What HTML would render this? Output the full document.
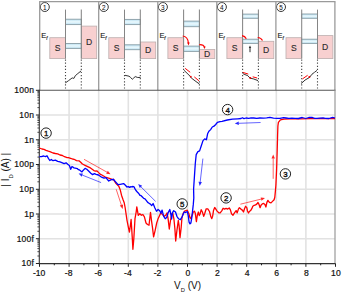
<!DOCTYPE html>
<html><head><meta charset="utf-8"><style>
html,body{margin:0;padding:0;background:#fff;width:342px;height:294px;overflow:hidden}
svg{display:block;font-family:"Liberation Sans",sans-serif;fill:#111}
</style></head><body>
<svg width="342" height="294" viewBox="0 0 342 294">
<defs><linearGradient id="bg" x1="0" y1="0" x2="0" y2="1"><stop offset="0" stop-color="#b8def0"/><stop offset="0.5" stop-color="#ecfafe"/><stop offset="1" stop-color="#b8def0"/></linearGradient></defs>
<g stroke="#e2e2e2" stroke-width="1.6"><line x1="69.1" y1="90.3" x2="69.1" y2="263.5"/><line x1="98.7" y1="90.3" x2="98.7" y2="263.5"/><line x1="128.3" y1="90.3" x2="128.3" y2="263.5"/><line x1="157.9" y1="90.3" x2="157.9" y2="263.5"/><line x1="187.5" y1="90.3" x2="187.5" y2="263.5"/><line x1="217.1" y1="90.3" x2="217.1" y2="263.5"/><line x1="246.7" y1="90.3" x2="246.7" y2="263.5"/><line x1="276.3" y1="90.3" x2="276.3" y2="263.5"/><line x1="305.9" y1="90.3" x2="305.9" y2="263.5"/><line x1="39.2" y1="115.0" x2="334.9" y2="115.0"/><line x1="39.2" y1="139.8" x2="334.9" y2="139.8"/><line x1="39.2" y1="164.5" x2="334.9" y2="164.5"/><line x1="39.2" y1="189.3" x2="334.9" y2="189.3"/><line x1="39.2" y1="214.0" x2="334.9" y2="214.0"/><line x1="39.2" y1="238.7" x2="334.9" y2="238.7"/></g>
<rect x="49.8" y="37.7" width="15.7" height="20.9" fill="#f8d0d0" stroke="#bcaeae" stroke-width="0.8"/><rect x="81.3" y="26.1" width="15.4" height="32.5" fill="#f8d0d0" stroke="#bcaeae" stroke-width="0.8"/><rect x="65.5" y="19.2" width="15.8" height="5.4" fill="url(#bg)" stroke="#8a9ea6" stroke-width="0.9"/><rect x="65.5" y="43.5" width="15.8" height="4.9" fill="url(#bg)" stroke="#8a9ea6" stroke-width="0.9"/><line x1="65.5" y1="9.6" x2="65.5" y2="58.6" stroke="#858585" stroke-width="1.05"/><line x1="81.3" y1="9.6" x2="81.3" y2="58.6" stroke="#858585" stroke-width="1.05"/><line x1="65.5" y1="59.5" x2="65.5" y2="90" stroke="#444" stroke-width="1.1" stroke-dasharray="1.2,1.9"/><line x1="81.3" y1="59.5" x2="81.3" y2="90" stroke="#444" stroke-width="1.1" stroke-dasharray="1.2,1.9"/><text x="57.6" y="51" font-size="8.6" text-anchor="middle" fill="#2a2a2a" stroke="#333" stroke-width="0.12">S</text><text x="89.0" y="45.4" font-size="8.6" text-anchor="middle" fill="#2a2a2a" stroke="#333" stroke-width="0.12">D</text><text x="41.3" y="37.6" font-size="7.4" fill="#1a1a1a" stroke="#1a1a1a" stroke-width="0.15">E<tspan font-size="4.6" font-style="italic" dy="1.9">f</tspan></text><circle cx="44.8" cy="7.0" r="4.5" fill="#fff" stroke="#222" stroke-width="0.9"/><text x="44.8" y="9.6" font-size="6.4" text-anchor="middle" stroke="#111" stroke-width="0.05">1</text><line x1="39.7" y1="1.7" x2="39.7" y2="90.3" stroke="#9a9a9a" stroke-width="1.3"/><rect x="108.8" y="37.7" width="15.7" height="20.9" fill="#f8d0d0" stroke="#bcaeae" stroke-width="0.8"/><rect x="140.3" y="42.0" width="15.4" height="16.6" fill="#f8d0d0" stroke="#bcaeae" stroke-width="0.8"/><rect x="124.5" y="19.4" width="15.8" height="5.2" fill="url(#bg)" stroke="#8a9ea6" stroke-width="0.9"/><rect x="124.5" y="44.8" width="15.8" height="4.9" fill="url(#bg)" stroke="#8a9ea6" stroke-width="0.9"/><line x1="124.5" y1="9.6" x2="124.5" y2="58.6" stroke="#858585" stroke-width="1.05"/><line x1="140.3" y1="9.6" x2="140.3" y2="58.6" stroke="#858585" stroke-width="1.05"/><line x1="124.5" y1="59.5" x2="124.5" y2="90" stroke="#444" stroke-width="1.1" stroke-dasharray="1.2,1.9"/><line x1="140.3" y1="59.5" x2="140.3" y2="90" stroke="#444" stroke-width="1.1" stroke-dasharray="1.2,1.9"/><text x="116.6" y="51" font-size="8.6" text-anchor="middle" fill="#2a2a2a" stroke="#333" stroke-width="0.12">S</text><text x="148.0" y="53.3" font-size="8.6" text-anchor="middle" fill="#2a2a2a" stroke="#333" stroke-width="0.12">D</text><text x="100.3" y="37.6" font-size="7.4" fill="#1a1a1a" stroke="#1a1a1a" stroke-width="0.15">E<tspan font-size="4.6" font-style="italic" dy="1.9">f</tspan></text><circle cx="103.8" cy="7.0" r="4.5" fill="#fff" stroke="#222" stroke-width="0.9"/><text x="103.8" y="9.6" font-size="6.4" text-anchor="middle" stroke="#111" stroke-width="0.05">2</text><line x1="98.7" y1="1.7" x2="98.7" y2="90.3" stroke="#9a9a9a" stroke-width="1.3"/><rect x="167.9" y="37.7" width="15.7" height="20.9" fill="#f8d0d0" stroke="#bcaeae" stroke-width="0.8"/><rect x="199.4" y="49.4" width="15.4" height="9.2" fill="#f8d0d0" stroke="#bcaeae" stroke-width="0.8"/><rect x="183.6" y="21.1" width="15.8" height="5.6" fill="url(#bg)" stroke="#8a9ea6" stroke-width="0.9"/><rect x="183.6" y="46.1" width="15.8" height="5.3" fill="url(#bg)" stroke="#8a9ea6" stroke-width="0.9"/><line x1="183.6" y1="9.6" x2="183.6" y2="58.6" stroke="#858585" stroke-width="1.05"/><line x1="199.4" y1="9.6" x2="199.4" y2="58.6" stroke="#858585" stroke-width="1.05"/><line x1="183.6" y1="59.5" x2="183.6" y2="90" stroke="#444" stroke-width="1.1" stroke-dasharray="1.2,1.9"/><line x1="199.4" y1="59.5" x2="199.4" y2="90" stroke="#444" stroke-width="1.1" stroke-dasharray="1.2,1.9"/><text x="175.7" y="51" font-size="8.6" text-anchor="middle" fill="#2a2a2a" stroke="#333" stroke-width="0.12">S</text><text x="207.1" y="57.0" font-size="8.6" text-anchor="middle" fill="#2a2a2a" stroke="#333" stroke-width="0.12">D</text><text x="159.4" y="37.6" font-size="7.4" fill="#1a1a1a" stroke="#1a1a1a" stroke-width="0.15">E<tspan font-size="4.6" font-style="italic" dy="1.9">f</tspan></text><circle cx="162.9" cy="7.0" r="4.5" fill="#fff" stroke="#222" stroke-width="0.9"/><text x="162.9" y="9.6" font-size="6.4" text-anchor="middle" stroke="#111" stroke-width="0.05">3</text><line x1="157.8" y1="1.7" x2="157.8" y2="90.3" stroke="#9a9a9a" stroke-width="1.3"/><rect x="226.9" y="37.7" width="15.7" height="20.9" fill="#f8d0d0" stroke="#bcaeae" stroke-width="0.8"/><rect x="258.4" y="41.3" width="15.4" height="17.3" fill="#f8d0d0" stroke="#bcaeae" stroke-width="0.8"/><rect x="242.6" y="14.1" width="15.8" height="4.2" fill="url(#bg)" stroke="#8a9ea6" stroke-width="0.9"/><rect x="242.6" y="39.2" width="15.8" height="4.2" fill="url(#bg)" stroke="#8a9ea6" stroke-width="0.9"/><line x1="242.6" y1="9.6" x2="242.6" y2="58.6" stroke="#858585" stroke-width="1.05"/><line x1="258.4" y1="9.6" x2="258.4" y2="58.6" stroke="#858585" stroke-width="1.05"/><line x1="242.6" y1="59.5" x2="242.6" y2="90" stroke="#444" stroke-width="1.1" stroke-dasharray="1.2,1.9"/><line x1="258.4" y1="59.5" x2="258.4" y2="90" stroke="#444" stroke-width="1.1" stroke-dasharray="1.2,1.9"/><text x="234.7" y="51" font-size="8.6" text-anchor="middle" fill="#2a2a2a" stroke="#333" stroke-width="0.12">S</text><text x="266.1" y="53.0" font-size="8.6" text-anchor="middle" fill="#2a2a2a" stroke="#333" stroke-width="0.12">D</text><text x="218.4" y="37.6" font-size="7.4" fill="#1a1a1a" stroke="#1a1a1a" stroke-width="0.15">E<tspan font-size="4.6" font-style="italic" dy="1.9">f</tspan></text><circle cx="221.9" cy="7.0" r="4.5" fill="#fff" stroke="#222" stroke-width="0.9"/><text x="221.9" y="9.6" font-size="6.4" text-anchor="middle" stroke="#111" stroke-width="0.05">4</text><line x1="216.8" y1="1.7" x2="216.8" y2="90.3" stroke="#9a9a9a" stroke-width="1.3"/><rect x="286.0" y="37.7" width="15.7" height="20.9" fill="#f8d0d0" stroke="#bcaeae" stroke-width="0.8"/><rect x="317.5" y="35.6" width="15.4" height="23.0" fill="#f8d0d0" stroke="#bcaeae" stroke-width="0.8"/><rect x="301.7" y="14.0" width="15.8" height="4.3" fill="url(#bg)" stroke="#8a9ea6" stroke-width="0.9"/><rect x="301.7" y="39.2" width="15.8" height="4.2" fill="url(#bg)" stroke="#8a9ea6" stroke-width="0.9"/><line x1="301.7" y1="9.6" x2="301.7" y2="58.6" stroke="#858585" stroke-width="1.05"/><line x1="317.5" y1="9.6" x2="317.5" y2="58.6" stroke="#858585" stroke-width="1.05"/><line x1="301.7" y1="59.5" x2="301.7" y2="90" stroke="#444" stroke-width="1.1" stroke-dasharray="1.2,1.9"/><line x1="317.5" y1="59.5" x2="317.5" y2="90" stroke="#444" stroke-width="1.1" stroke-dasharray="1.2,1.9"/><text x="293.8" y="51" font-size="8.6" text-anchor="middle" fill="#2a2a2a" stroke="#333" stroke-width="0.12">S</text><text x="325.2" y="50.1" font-size="8.6" text-anchor="middle" fill="#2a2a2a" stroke="#333" stroke-width="0.12">D</text><text x="277.5" y="37.6" font-size="7.4" fill="#1a1a1a" stroke="#1a1a1a" stroke-width="0.15">E<tspan font-size="4.6" font-style="italic" dy="1.9">f</tspan></text><circle cx="281.0" cy="7.0" r="4.5" fill="#fff" stroke="#222" stroke-width="0.9"/><text x="281.0" y="9.6" font-size="6.4" text-anchor="middle" stroke="#111" stroke-width="0.05">5</text><line x1="275.9" y1="1.7" x2="275.9" y2="90.3" stroke="#9a9a9a" stroke-width="1.3"/><line x1="334.9" y1="1.7" x2="334.9" y2="90.3" stroke="#9a9a9a" stroke-width="1.3"/><line x1="39.1" y1="1.7" x2="335.5" y2="1.7" stroke="#9a9a9a" stroke-width="1.3"/><polyline points="65.5,82.8 68.6,80.6 72.2,77.9 73.9,78.4 75.3,75.7 77.9,73.5 81.2,70.8" fill="none" stroke="#333" stroke-width="1.0" stroke-linejoin="round"/><polyline points="125.0,75.3 129.0,76.2 130.7,77.5 132.3,79.3 133.8,77.9 135.2,76.6 137.8,77.5 140.5,77.4" fill="none" stroke="#333" stroke-width="1.0" stroke-linejoin="round"/><polyline points="183.9,70.2 187.0,73.2 190.2,76.3 191.2,77.9 195.0,80.8 199.4,84.0" fill="none" stroke="#333" stroke-width="1.0" stroke-linejoin="round"/><polyline points="242.6,73.5 245.0,74.6 247.8,75.7 250.1,78.2 253.2,78.8 258.0,80.6" fill="none" stroke="#333" stroke-width="1.0" stroke-linejoin="round"/><polyline points="301.3,83.5 305.0,80.1 309.4,77.5 312.0,74.2 314.5,72.3 317.0,70.4" fill="none" stroke="#333" stroke-width="1.0" stroke-linejoin="round"/><line x1="185.1" y1="68.3" x2="190.2" y2="72.3" stroke="#f00" stroke-width="1.0"/><circle cx="190.8" cy="76.7" r="0.9" fill="#e00"/><line x1="194.3" y1="76.9" x2="198.9" y2="80.8" stroke="#f00" stroke-width="1.0"/><line x1="242.8" y1="72.4" x2="248.3" y2="74.1" stroke="#f00" stroke-width="1.0"/><line x1="252.7" y1="76.8" x2="257.1" y2="78.0" stroke="#f00" stroke-width="1.0"/><circle cx="250.3" cy="77.9" r="1" fill="#e00"/><line x1="302.5" y1="78.9" x2="307.6" y2="75.3" stroke="#f00" stroke-width="1.0"/><circle cx="309.4" cy="77" r="1" fill="#e00"/><path d="M182.7,36 Q187.8,36.5 188.4,43" fill="none" stroke="#f00" stroke-width="1.2"/><polygon points="188.5,45.5 187.1,42.5 189.7,42.5" fill="#e00"/><path d="M199.3,44.6 Q203.8,44.4 204.3,47" fill="none" stroke="#f00" stroke-width="1.2"/><polygon points="204.5,49 203.2,46.5 205.7,46.5" fill="#e00"/><path d="M242,35.6 Q245,36 246.3,38.8" fill="none" stroke="#f00" stroke-width="1.2"/><path d="M257.7,37.5 Q261,37.6 262.5,40.6" fill="none" stroke="#f00" stroke-width="1.2"/><line x1="250.0" y1="52.2" x2="250.0" y2="48.0" stroke="#111" stroke-width="0.9" opacity="1"/><polygon points="250.0,45.4 251.2,48.0 248.8,48.0" fill="#111" opacity="0.9"/>
<line x1="39.2" y1="90.3" x2="335.5" y2="90.3" stroke="#555" stroke-width="1.1"/><line x1="335" y1="90.3" x2="335" y2="263.5" stroke="#999" stroke-width="1.2"/><line x1="39.3" y1="89.8" x2="39.3" y2="264.1" stroke="#333" stroke-width="1.1"/><line x1="38.7" y1="263.6" x2="335.5" y2="263.6" stroke="#333" stroke-width="1.1"/><line x1="39.5" y1="263.5" x2="39.5" y2="266.8" stroke="#222" stroke-width="1"/><line x1="54.3" y1="263.5" x2="54.3" y2="265.3" stroke="#222" stroke-width="1"/><line x1="69.1" y1="263.5" x2="69.1" y2="266.8" stroke="#222" stroke-width="1"/><line x1="83.9" y1="263.5" x2="83.9" y2="265.3" stroke="#222" stroke-width="1"/><line x1="98.7" y1="263.5" x2="98.7" y2="266.8" stroke="#222" stroke-width="1"/><line x1="113.5" y1="263.5" x2="113.5" y2="265.3" stroke="#222" stroke-width="1"/><line x1="128.3" y1="263.5" x2="128.3" y2="266.8" stroke="#222" stroke-width="1"/><line x1="143.1" y1="263.5" x2="143.1" y2="265.3" stroke="#222" stroke-width="1"/><line x1="157.9" y1="263.5" x2="157.9" y2="266.8" stroke="#222" stroke-width="1"/><line x1="172.7" y1="263.5" x2="172.7" y2="265.3" stroke="#222" stroke-width="1"/><line x1="187.5" y1="263.5" x2="187.5" y2="266.8" stroke="#222" stroke-width="1"/><line x1="202.3" y1="263.5" x2="202.3" y2="265.3" stroke="#222" stroke-width="1"/><line x1="217.1" y1="263.5" x2="217.1" y2="266.8" stroke="#222" stroke-width="1"/><line x1="231.9" y1="263.5" x2="231.9" y2="265.3" stroke="#222" stroke-width="1"/><line x1="246.7" y1="263.5" x2="246.7" y2="266.8" stroke="#222" stroke-width="1"/><line x1="261.5" y1="263.5" x2="261.5" y2="265.3" stroke="#222" stroke-width="1"/><line x1="276.3" y1="263.5" x2="276.3" y2="266.8" stroke="#222" stroke-width="1"/><line x1="291.1" y1="263.5" x2="291.1" y2="265.3" stroke="#222" stroke-width="1"/><line x1="305.9" y1="263.5" x2="305.9" y2="266.8" stroke="#222" stroke-width="1"/><line x1="320.7" y1="263.5" x2="320.7" y2="265.3" stroke="#222" stroke-width="1"/><line x1="335.5" y1="263.5" x2="335.5" y2="266.8" stroke="#222" stroke-width="1"/><line x1="35.9" y1="90.3" x2="39.2" y2="90.3" stroke="#222" stroke-width="1"/><line x1="37.4" y1="107.6" x2="39.2" y2="107.6" stroke="#222" stroke-width="0.8"/><line x1="37.4" y1="103.2" x2="39.2" y2="103.2" stroke="#222" stroke-width="0.8"/><line x1="37.4" y1="100.1" x2="39.2" y2="100.1" stroke="#222" stroke-width="0.8"/><line x1="37.4" y1="97.7" x2="39.2" y2="97.7" stroke="#222" stroke-width="0.8"/><line x1="37.4" y1="95.8" x2="39.2" y2="95.8" stroke="#222" stroke-width="0.8"/><line x1="37.4" y1="94.1" x2="39.2" y2="94.1" stroke="#222" stroke-width="0.8"/><line x1="37.4" y1="92.7" x2="39.2" y2="92.7" stroke="#222" stroke-width="0.8"/><line x1="37.4" y1="91.4" x2="39.2" y2="91.4" stroke="#222" stroke-width="0.8"/><line x1="35.9" y1="115.0" x2="39.2" y2="115.0" stroke="#222" stroke-width="1"/><line x1="37.4" y1="132.3" x2="39.2" y2="132.3" stroke="#222" stroke-width="0.8"/><line x1="37.4" y1="128.0" x2="39.2" y2="128.0" stroke="#222" stroke-width="0.8"/><line x1="37.4" y1="124.9" x2="39.2" y2="124.9" stroke="#222" stroke-width="0.8"/><line x1="37.4" y1="122.5" x2="39.2" y2="122.5" stroke="#222" stroke-width="0.8"/><line x1="37.4" y1="120.5" x2="39.2" y2="120.5" stroke="#222" stroke-width="0.8"/><line x1="37.4" y1="118.9" x2="39.2" y2="118.9" stroke="#222" stroke-width="0.8"/><line x1="37.4" y1="117.4" x2="39.2" y2="117.4" stroke="#222" stroke-width="0.8"/><line x1="37.4" y1="116.2" x2="39.2" y2="116.2" stroke="#222" stroke-width="0.8"/><line x1="35.9" y1="139.8" x2="39.2" y2="139.8" stroke="#222" stroke-width="1"/><line x1="37.4" y1="157.1" x2="39.2" y2="157.1" stroke="#222" stroke-width="0.8"/><line x1="37.4" y1="152.7" x2="39.2" y2="152.7" stroke="#222" stroke-width="0.8"/><line x1="37.4" y1="149.6" x2="39.2" y2="149.6" stroke="#222" stroke-width="0.8"/><line x1="37.4" y1="147.2" x2="39.2" y2="147.2" stroke="#222" stroke-width="0.8"/><line x1="37.4" y1="145.3" x2="39.2" y2="145.3" stroke="#222" stroke-width="0.8"/><line x1="37.4" y1="143.6" x2="39.2" y2="143.6" stroke="#222" stroke-width="0.8"/><line x1="37.4" y1="142.2" x2="39.2" y2="142.2" stroke="#222" stroke-width="0.8"/><line x1="37.4" y1="140.9" x2="39.2" y2="140.9" stroke="#222" stroke-width="0.8"/><line x1="35.9" y1="164.5" x2="39.2" y2="164.5" stroke="#222" stroke-width="1"/><line x1="37.4" y1="181.8" x2="39.2" y2="181.8" stroke="#222" stroke-width="0.8"/><line x1="37.4" y1="177.5" x2="39.2" y2="177.5" stroke="#222" stroke-width="0.8"/><line x1="37.4" y1="174.4" x2="39.2" y2="174.4" stroke="#222" stroke-width="0.8"/><line x1="37.4" y1="172.0" x2="39.2" y2="172.0" stroke="#222" stroke-width="0.8"/><line x1="37.4" y1="170.0" x2="39.2" y2="170.0" stroke="#222" stroke-width="0.8"/><line x1="37.4" y1="168.4" x2="39.2" y2="168.4" stroke="#222" stroke-width="0.8"/><line x1="37.4" y1="166.9" x2="39.2" y2="166.9" stroke="#222" stroke-width="0.8"/><line x1="37.4" y1="165.7" x2="39.2" y2="165.7" stroke="#222" stroke-width="0.8"/><line x1="35.9" y1="189.3" x2="39.2" y2="189.3" stroke="#222" stroke-width="1"/><line x1="37.4" y1="206.6" x2="39.2" y2="206.6" stroke="#222" stroke-width="0.8"/><line x1="37.4" y1="202.2" x2="39.2" y2="202.2" stroke="#222" stroke-width="0.8"/><line x1="37.4" y1="199.1" x2="39.2" y2="199.1" stroke="#222" stroke-width="0.8"/><line x1="37.4" y1="196.7" x2="39.2" y2="196.7" stroke="#222" stroke-width="0.8"/><line x1="37.4" y1="194.7" x2="39.2" y2="194.7" stroke="#222" stroke-width="0.8"/><line x1="37.4" y1="193.1" x2="39.2" y2="193.1" stroke="#222" stroke-width="0.8"/><line x1="37.4" y1="191.7" x2="39.2" y2="191.7" stroke="#222" stroke-width="0.8"/><line x1="37.4" y1="190.4" x2="39.2" y2="190.4" stroke="#222" stroke-width="0.8"/><line x1="35.9" y1="214.0" x2="39.2" y2="214.0" stroke="#222" stroke-width="1"/><line x1="37.4" y1="231.3" x2="39.2" y2="231.3" stroke="#222" stroke-width="0.8"/><line x1="37.4" y1="226.9" x2="39.2" y2="226.9" stroke="#222" stroke-width="0.8"/><line x1="37.4" y1="223.8" x2="39.2" y2="223.8" stroke="#222" stroke-width="0.8"/><line x1="37.4" y1="221.4" x2="39.2" y2="221.4" stroke="#222" stroke-width="0.8"/><line x1="37.4" y1="219.5" x2="39.2" y2="219.5" stroke="#222" stroke-width="0.8"/><line x1="37.4" y1="217.8" x2="39.2" y2="217.8" stroke="#222" stroke-width="0.8"/><line x1="37.4" y1="216.4" x2="39.2" y2="216.4" stroke="#222" stroke-width="0.8"/><line x1="37.4" y1="215.1" x2="39.2" y2="215.1" stroke="#222" stroke-width="0.8"/><line x1="35.9" y1="238.7" x2="39.2" y2="238.7" stroke="#222" stroke-width="1"/><line x1="37.4" y1="256.0" x2="39.2" y2="256.0" stroke="#222" stroke-width="0.8"/><line x1="37.4" y1="251.7" x2="39.2" y2="251.7" stroke="#222" stroke-width="0.8"/><line x1="37.4" y1="248.6" x2="39.2" y2="248.6" stroke="#222" stroke-width="0.8"/><line x1="37.4" y1="246.2" x2="39.2" y2="246.2" stroke="#222" stroke-width="0.8"/><line x1="37.4" y1="244.2" x2="39.2" y2="244.2" stroke="#222" stroke-width="0.8"/><line x1="37.4" y1="242.6" x2="39.2" y2="242.6" stroke="#222" stroke-width="0.8"/><line x1="37.4" y1="241.1" x2="39.2" y2="241.1" stroke="#222" stroke-width="0.8"/><line x1="37.4" y1="239.9" x2="39.2" y2="239.9" stroke="#222" stroke-width="0.8"/><line x1="35.9" y1="263.5" x2="39.2" y2="263.5" stroke="#222" stroke-width="1"/><text x="34.2" y="93.2" font-size="8.5" letter-spacing="0.25" text-anchor="end" stroke="#111" stroke-width="0.2">100n</text><text x="34.2" y="117.9" font-size="8.5" letter-spacing="0.25" text-anchor="end" stroke="#111" stroke-width="0.2">10n</text><text x="34.2" y="142.7" font-size="8.5" letter-spacing="0.25" text-anchor="end" stroke="#111" stroke-width="0.2">1n</text><text x="34.2" y="167.4" font-size="8.5" letter-spacing="0.25" text-anchor="end" stroke="#111" stroke-width="0.2">100p</text><text x="34.2" y="192.2" font-size="8.5" letter-spacing="0.25" text-anchor="end" stroke="#111" stroke-width="0.2">10p</text><text x="34.2" y="216.9" font-size="8.5" letter-spacing="0.25" text-anchor="end" stroke="#111" stroke-width="0.2">1p</text><text x="34.2" y="241.6" font-size="8.5" letter-spacing="0.25" text-anchor="end" stroke="#111" stroke-width="0.2">100f</text><text x="34.2" y="266.4" font-size="8.5" letter-spacing="0.25" text-anchor="end" stroke="#111" stroke-width="0.2">10f</text><text x="39.1" y="276" font-size="8.6" text-anchor="middle" stroke="#111" stroke-width="0.2">-10</text><text x="68.7" y="276" font-size="8.6" text-anchor="middle" stroke="#111" stroke-width="0.2">-8</text><text x="98.3" y="276" font-size="8.6" text-anchor="middle" stroke="#111" stroke-width="0.2">-6</text><text x="127.9" y="276" font-size="8.6" text-anchor="middle" stroke="#111" stroke-width="0.2">-4</text><text x="157.5" y="276" font-size="8.6" text-anchor="middle" stroke="#111" stroke-width="0.2">-2</text><text x="187.9" y="276" font-size="8.6" text-anchor="middle" stroke="#111" stroke-width="0.2">0</text><text x="217.5" y="276" font-size="8.6" text-anchor="middle" stroke="#111" stroke-width="0.2">2</text><text x="247.1" y="276" font-size="8.6" text-anchor="middle" stroke="#111" stroke-width="0.2">4</text><text x="276.7" y="276" font-size="8.6" text-anchor="middle" stroke="#111" stroke-width="0.2">6</text><text x="306.3" y="276" font-size="8.6" text-anchor="middle" stroke="#111" stroke-width="0.2">8</text><text x="335.9" y="276" font-size="8.6" text-anchor="middle" stroke="#111" stroke-width="0.2">10</text><text x="174" y="288.6" font-size="10">V<tspan font-size="5.8" dy="3.2">D</tspan><tspan dy="-3.2"> (V)</tspan></text><text transform="translate(9.4,169.8) rotate(-90)" font-size="10" text-anchor="middle">| I<tspan font-size="5.8" dy="3.2">D</tspan><tspan dy="-3.2"> (A) |</tspan></text>
<polyline points="39.4,148.0 42.0,149.0 44.0,149.4 46.0,150.4 48.4,151.2 50.5,151.8 53.0,153.0 55.4,153.5 57.7,153.8 60.0,155.0 62.4,155.5 64.5,156.7 67.1,157.6 68.5,157.6 70.6,158.3 72.5,159.0 74.1,159.3 76.5,160.6 79.3,160.9 80.7,162.2 82.4,164.0 85.1,165.3 87.7,166.6 90.4,167.9 92.2,169.3 93.9,170.6 95.7,171.2 97.0,170.9 98.4,172.4 100.1,174.1 101.9,175.0 104.0,176.2 105.3,177.0 109.3,178.3 112.7,179.7 113.4,179.3 116.1,183.6 118.8,186.3 120.2,189.7 121.5,195.2 122.9,199.3 124.2,202.7 125.2,208.0 127.0,220.3 128.2,226.3 129.4,232.2 130.4,225.4 131.1,219.5 131.6,227.1 132.4,239.9 132.9,249.3 133.8,239.0 135.0,218.6 136.2,211.8 136.8,206.9 138.3,215.3 139.8,213.8 141.4,215.3 142.9,214.5 144.4,216.8 146.0,223.0 147.5,224.5 149.0,225.3 150.5,212.3 151.6,221.4 152.5,227.6 153.6,236.8 155.1,230.6 156.7,223.0 158.2,218.4 159.6,215.4 160.8,212.9 162.5,214.6 164.2,216.3 165.9,215.1 167.1,212.9 168.1,218.8 169.3,229.0 170.5,220.5 171.8,213.7 172.7,212.9 173.9,218.8 174.9,229.0 175.7,241.0 176.9,230.7 178.3,220.5 179.1,225.6 180.0,237.6 181.2,227.3 182.0,217.1 183.4,212.9 184.6,211.2 186.0,210.6 187.3,210.2 188.7,213.3 190.0,217.7 190.9,218.6 191.8,215.9 193.1,212.4 194.4,211.1 195.3,213.3 196.4,221.7 197.3,215.5 198.4,212.0 199.3,215.5 200.2,213.7 201.2,209.7 202.4,212.0 203.7,216.4 204.8,213.3 206.2,208.8 207.8,208.8 209.5,211.5 210.9,216.8 211.8,218.6 212.6,216.4 213.5,210.6 214.7,207.5 215.7,208.8 217.1,211.1 218.8,212.8 220.2,212.8 221.9,210.6 223.1,208.3 224.6,209.1 226.1,208.3 227.7,209.1 229.2,207.9 230.4,209.9 231.5,213.7 233.0,215.2 234.5,212.9 236.1,210.6 237.2,212.9 238.4,209.1 239.4,207.7 240.9,209.1 242.3,210.1 243.5,212.0 244.5,208.7 245.6,206.3 246.8,207.7 247.5,211.0 248.5,213.0 249.4,211.5 250.6,210.6 251.8,208.7 252.8,206.3 254.2,205.3 255.6,204.9 257.0,203.9 258.0,202.5 259.0,204.4 260.1,207.7 261.0,205.3 262.3,203.9 263.7,203.4 264.9,204.4 265.9,207.0 266.9,202.4 267.9,200.4 269.4,202.4 271.0,202.9 272.5,201.4 274.1,199.8 274.8,197.3 275.4,191.1 275.9,185.0 276.6,170.0 277.2,150.0 277.6,135.0 277.9,126.0 278.4,122.3 280.4,119.8 284.0,119.2 290.0,118.9 300.0,118.8 310.0,118.7 320.0,118.7 335.0,118.6" fill="none" stroke="#ff0000" stroke-width="1.3" stroke-linejoin="round"/><polyline points="39.4,156.6 41.3,156.6 43.7,156.0 45.4,156.6 47.0,155.8 48.4,158.4 49.8,160.5 51.3,159.5 53.0,160.7 55.4,160.1 57.7,161.3 60.0,161.9 62.4,162.8 64.1,163.6 66.1,162.8 67.7,164.2 69.4,165.5 70.7,169.3 72.0,166.5 74.0,167.9 77.5,168.6 78.0,169.3 79.8,170.2 82.0,171.9 83.3,170.2 85.1,168.4 86.8,169.3 88.6,171.0 90.8,173.3 92.6,174.6 94.4,173.7 96.1,174.4 98.4,175.0 101.0,176.8 104.0,178.1 105.9,177.7 108.7,181.0 111.4,179.7 113.4,179.3 115.4,181.6 118.1,184.7 120.2,184.3 123.6,183.6 124.9,184.7 127.0,187.0 128.3,186.6 129.7,187.4 131.0,186.6 132.4,187.0 132.7,186.4 134.0,186.9 134.9,188.6 136.2,190.8 137.5,192.2 138.8,193.5 139.7,195.1 141.1,195.7 142.4,197.0 143.7,198.4 145.0,198.8 146.4,200.6 147.7,202.4 149.0,203.2 150.4,204.1 151.7,205.6 153.1,203.5 154.8,207.8 156.5,211.2 158.1,209.5 159.7,210.7 160.9,213.2 162.1,210.1 163.6,216.2 165.2,218.7 166.7,217.5 168.2,212.6 169.8,209.5 171.0,215.0 171.6,219.0 172.5,212.6 173.7,210.7 175.5,212.0 176.9,216.3 178.6,218.8 180.3,219.7 182.0,217.1 183.7,212.9 184.4,212.0 185.6,212.5 187.3,211.5 188.2,215.5 189.1,222.1 190.0,223.9 190.9,223.0 191.8,217.7 192.6,210.6 193.3,204.4 193.8,198.0 193.6,189.0 194.5,175.4 195.3,163.5 196.2,154.6 197.9,151.7 199.6,150.9 201.3,145.7 203.0,140.6 204.7,138.9 206.4,139.8 207.6,133.8 208.9,131.3 210.6,129.6 212.3,127.0 214.0,126.2 215.7,124.5 217.4,122.3 220.0,121.6 222.0,121.3 227.3,120.0 232.5,119.2 237.8,118.8 241.0,118.5 242.4,117.7 244.0,118.6 246.0,118.0 248.8,118.3 251.1,117.9 253.7,118.0 256.7,118.4 259.9,118.0 263.5,118.2 266.7,117.9 269.9,117.3 273.5,118.2 277.1,118.3 279.9,118.4 283.6,117.7 286.0,118.0 288.9,118.3 291.9,118.1 295.1,118.3 298.4,118.5 302.2,117.5 305.7,118.5 308.8,117.5 312.4,117.5 314.7,118.4 317.0,118.4 319.5,118.1 323.1,117.9 325.3,118.4 328.9,118.5 332.7,117.3 335.0,118.0" fill="none" stroke="#0000ff" stroke-width="1.3" stroke-linejoin="round"/><line x1="84.0" y1="159.3" x2="107.0" y2="172.2" stroke="#ff0000" stroke-width="1.0" opacity="0.6"/><polygon points="110.5,174.2 106.2,173.7 107.8,170.8" fill="#ff0000" opacity="0.85"/><line x1="101.1" y1="182.6" x2="82.3" y2="175.1" stroke="#0000ff" stroke-width="1.0" opacity="0.6"/><polygon points="78.6,173.6 82.9,173.5 81.7,176.7" fill="#0000ff" opacity="0.85"/><line x1="116.2" y1="189.3" x2="121.4" y2="205.1" stroke="#ff0000" stroke-width="1.0" opacity="0.6"/><polygon points="122.7,208.9 119.8,205.6 123.1,204.6" fill="#ff0000" opacity="0.85"/><line x1="155.6" y1="201.4" x2="141.0" y2="186.9" stroke="#0000ff" stroke-width="1.0" opacity="0.6"/><polygon points="138.2,184.1 142.2,185.7 139.8,188.1" fill="#0000ff" opacity="0.85"/><line x1="202.9" y1="158.6" x2="200.2" y2="181.9" stroke="#0000ff" stroke-width="1.0" opacity="0.6"/><polygon points="199.7,185.9 198.5,181.7 201.9,182.1" fill="#0000ff" opacity="0.85"/><line x1="260.6" y1="122.5" x2="238.8" y2="123.3" stroke="#0000ff" stroke-width="1.0" opacity="0.6"/><polygon points="234.8,123.4 238.7,121.6 238.9,125.0" fill="#0000ff" opacity="0.85"/><line x1="240.4" y1="204.2" x2="261.1" y2="199.1" stroke="#ff0000" stroke-width="1.0" opacity="0.6"/><polygon points="265.0,198.1 261.5,200.7 260.7,197.4" fill="#ff0000" opacity="0.85"/><line x1="273.2" y1="178.8" x2="273.2" y2="158.5" stroke="#ff0000" stroke-width="1.0" opacity="0.6"/><polygon points="273.2,154.5 274.9,158.5 271.5,158.5" fill="#ff0000" opacity="0.85"/><circle cx="46.1" cy="133.1" r="5.2" fill="#fff" stroke="#222" stroke-width="1.0"/><text x="46.1" y="136.2" font-size="7.9" text-anchor="middle" stroke="#111" stroke-width="0.35">1</text><circle cx="226.1" cy="197.9" r="5.2" fill="#fff" stroke="#222" stroke-width="1.0"/><text x="226.1" y="201.0" font-size="7.9" text-anchor="middle" stroke="#111" stroke-width="0.35">2</text><circle cx="285.4" cy="173.9" r="5.2" fill="#fff" stroke="#222" stroke-width="1.0"/><text x="285.4" y="177.0" font-size="7.9" text-anchor="middle" stroke="#111" stroke-width="0.35">3</text><circle cx="227.6" cy="109.6" r="5.2" fill="#fff" stroke="#222" stroke-width="1.0"/><text x="227.6" y="112.7" font-size="7.9" text-anchor="middle" stroke="#111" stroke-width="0.35">4</text><circle cx="182.2" cy="203.9" r="5.2" fill="#fff" stroke="#222" stroke-width="1.0"/><text x="182.2" y="207.0" font-size="7.9" text-anchor="middle" stroke="#111" stroke-width="0.35">5</text>
</svg>
</body></html>
